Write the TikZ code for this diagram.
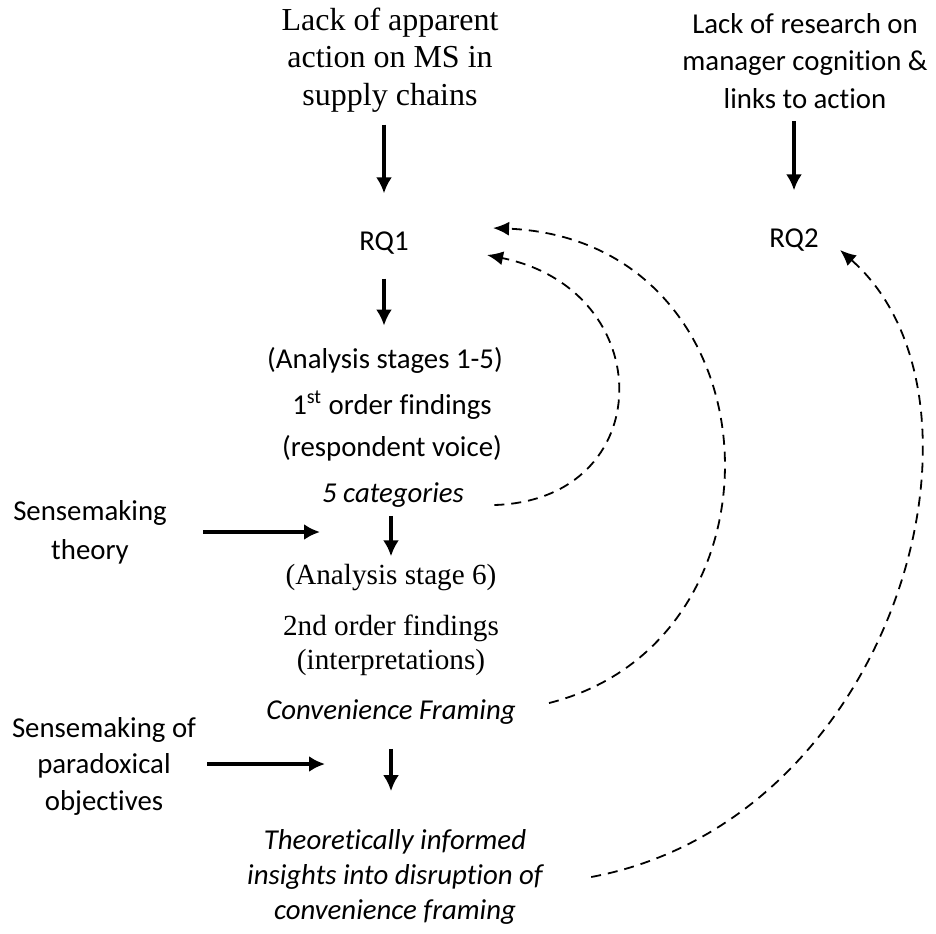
\documentclass[tikz,border=0pt]{standalone}
\usepackage{fontspec}
\setmainfont[Ligatures=NoCommon]{Carlito}
\newfontfamily\timesfont{Liberation Serif}
\usetikzlibrary{arrows.meta}
\tikzset{>={Latex[length=8pt,width=8pt]}}
\tikzstyle{flow}=[->,line width=1.6pt]
\tikzstyle{feedback}=[-{Latex[length=8pt,width=7pt]},line width=0.9pt,dash pattern=on 5pt off 3.5pt]
\tikzstyle{block}=[align=center,inner sep=0pt]
\newcommand\sans[1]{\fontsize{14.4}{#1}\selectfont}
\newcommand\serif[2]{\timesfont\fontsize{#1}{#2}\selectfont}

\begin{document}
\begin{tikzpicture}[x=0.5pt,y=-0.5pt]
  \message{Research design diagram^^J}
  \useasboundingbox (0,0) rectangle (936,933);

  % GAPS AND RESEARCH QUESTIONS
  \node[block,font=\serif{16}{18.75}] (gap1) at (390,60) {Lack of apparent\\action on MS in\\supply chains};
  \node[block,font=\sans{18.75}] (gap2) at (805,61) {Lack of research on\\manager cognition \&\\links to action};
  \node[block,font=\sans{18}] (rq1) at (384,243) {RQ1};
  \node[block,font=\sans{18}] (rq2) at (794,240) {RQ2};

  % FIRST ORDER ANALYSIS
  \node[block,font=\sans{18}] (stage1) at (385,360) {(Analysis stages 1-5)};
  \node[block,font=\sans{21}] (order1) at (392,426) {1\textsuperscript{st} order findings\\(respondent voice)};
  \node[block,font=\sans{18}\itshape] (cat5) at (393,495) {5 categories};

  % SECOND ORDER ANALYSIS
  \node[block,font=\serif{14.6}{17}] (stage6) at (391,578) {(Analysis stage 6)};
  \node[block,font=\serif{14.6}{17}] (order2) at (391,645) {2nd order findings\\(interpretations)};
  \node[block,font=\sans{18}\itshape] (conv) at (391,712) {Convenience Framing};
  \node[block,font=\sans{17.5}\itshape] (insight) at (395,877) {Theoretically informed\\insights into disruption of\\convenience framing};

  % THEORY INPUTS
  \node[block,font=\sans{19.5}] (theory) at (90,532) {Sensemaking\\theory};
  \node[block,font=\sans{18.25}] (paradox) at (104,766) {Sensemaking of\\paradoxical\\objectives};
  \coordinate (in1) at (320,532);
  \coordinate (in2) at (325,764);

  % SOLID ARROWS
  \draw[flow,shorten <=6pt,shorten >=19pt] (gap1.south -| rq1.north) -- (rq1.north);
  \draw[flow,shorten <=6pt,shorten >=19pt] (gap2.south -| rq2.north) -- (rq2.north);
  \draw[flow,shorten <=12pt,shorten >=10.5pt] (rq1.south) -- (rq1.south |- stage1.north);
  \draw[flow,shorten <=4pt,shorten >=4pt] (cat5.south -| stage6.north) -- (stage6.north);
  \draw[flow,shorten <=12pt,shorten >=19pt] (conv.south) -- (conv.south |- insight.north);
  \draw[flow] ([shift={(36,0)}]theory.east) -- (in1);
  \draw[flow] ([shift={(11,-2)}]paradox.east) -- (in2);

  % FEEDBACK LOOPS
  \draw[feedback] ([shift={(30,10)}]cat5.east) .. controls +(165,-5) and +(173,35) .. ([shift={(78,12)}]rq1.east);
  \draw[feedback] ([shift={(33,-9)}]conv.east) .. controls +(250,-63) and +(287,12) .. ([shift={(84,-15)}]rq1.east);
  \draw[feedback] ([shift={(48,0)}]insight.east) .. controls +(305,-57) and +(170,150) .. ([shift={(21,10)}]rq2.east);

\end{tikzpicture}
\end{document}
